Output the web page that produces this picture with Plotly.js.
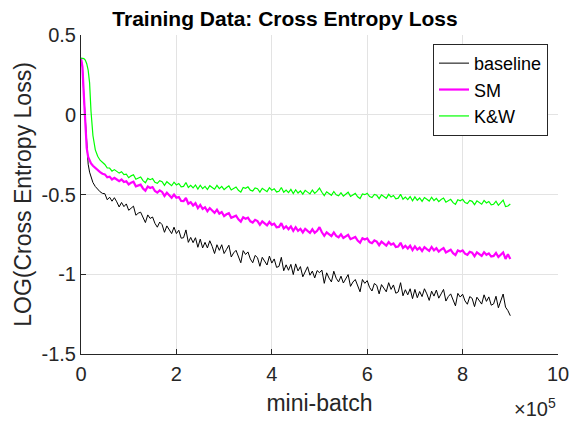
<!DOCTYPE html>
<html>
<head>
<meta charset="utf-8">
<script src="https://cdn.plot.ly/plotly-3.0.1.min.js"></script>
<style>html,body{margin:0;padding:0;background:#fff;}#chart{width:572px;height:423px;}</style>
</head>
<body>
<div id="chart"></div>
<script>
// mini-batch index, in units of 1e5
const miniBatch = [0,0.03,0.06,0.09,0.12,0.15,0.18,0.21,0.25,0.3,0.35,0.4,0.45,
0.5,0.55,0.6,0.65,0.7,0.75,0.8,0.85,0.9,0.95,
1.0,1.05,1.1,1.15,1.2,1.25,1.3,1.35,1.4,1.45,
1.5,1.55,1.6,1.65,1.7,1.75,1.8,1.85,1.9,1.95,
2.0,2.05,2.1,2.15,2.2,2.25,2.3,2.35,2.4,2.45,
2.5,2.55,2.6,2.65,2.7,2.75,2.8,2.85,2.9,2.95,
3.0,3.05,3.1,3.15,3.2,3.25,3.3,3.35,3.4,3.45,
3.5,3.55,3.6,3.65,3.7,3.75,3.8,3.85,3.9,3.95,
4.0,4.05,4.1,4.15,4.2,4.25,4.3,4.35,4.4,4.45,
4.5,4.55,4.6,4.65,4.7,4.75,4.8,4.85,4.9,4.95,
5.0,5.05,5.1,5.15,5.2,5.25,5.3,5.35,5.4,5.45,
5.5,5.55,5.6,5.65,5.7,5.75,5.8,5.85,5.9,5.95,
6.0,6.05,6.1,6.15,6.2,6.25,6.3,6.35,6.4,6.45,
6.5,6.55,6.6,6.65,6.7,6.75,6.8,6.85,6.9,6.95,
7.0,7.05,7.1,7.15,7.2,7.25,7.3,7.35,7.4,7.45,
7.5,7.55,7.6,7.65,7.7,7.75,7.8,7.85,7.9,7.95,
8.0,8.05,8.1,8.15,8.2,8.25,8.3,8.35,8.4,8.45,
8.5,8.55,8.6,8.65,8.7,8.75,8.8,8.85,8.9,8.95,
9.0];

const baseline = [0.355,0.3,0.12,-0.05,-0.22,-0.31,-0.36,-0.395,-0.425,-0.45,-0.47,-0.483,-0.493,
-0.495,-0.533,-0.517,-0.542,-0.520,-0.546,-0.578,-0.550,-0.576,-0.559,
-0.599,-0.586,-0.573,-0.630,-0.617,-0.611,-0.647,-0.676,-0.628,-0.650,
-0.641,-0.681,-0.705,-0.673,-0.689,-0.737,-0.697,-0.721,-0.745,-0.705,
-0.745,-0.724,-0.774,-0.771,-0.722,-0.800,-0.769,-0.802,-0.771,-0.831,
-0.780,-0.835,-0.800,-0.835,-0.790,-0.825,-0.870,-0.815,-0.850,-0.815,
-0.870,-0.844,-0.818,-0.892,-0.866,-0.850,-0.894,-0.928,-0.852,-0.876,
-0.860,-0.904,-0.928,-0.882,-0.896,-0.950,-0.894,-0.918,-0.942,-0.886,
-0.930,-0.904,-0.957,-0.951,-0.894,-0.978,-0.941,-0.975,-0.938,-1.002,
-0.935,-0.979,-0.952,-1.016,-0.979,-0.953,-1.006,-0.980,-1.023,-0.977,
-0.990,-0.974,-1.057,-0.991,-1.024,-1.048,-0.981,-1.025,-1.048,-1.012,
-1.055,-1.029,-1.002,-1.076,-1.049,-1.033,-1.076,-1.110,-1.033,-1.057,
-1.040,-1.083,-1.105,-1.058,-1.070,-1.123,-1.065,-1.088,-1.110,-1.053,
-1.095,-1.067,-1.119,-1.111,-1.053,-1.135,-1.097,-1.129,-1.091,-1.153,
-1.095,-1.147,-1.108,-1.140,-1.091,-1.123,-1.164,-1.106,-1.137,-1.099,
-1.150,-1.123,-1.095,-1.168,-1.140,-1.123,-1.165,-1.198,-1.120,-1.143,
-1.125,-1.167,-1.188,-1.140,-1.151,-1.203,-1.144,-1.166,-1.187,-1.129,
-1.170,-1.142,-1.194,-1.186,-1.138,-1.210,-1.172,-1.124,-1.206,-1.228,
-1.26];

const sm = [0.355,0.3,0.12,-0.05,-0.21,-0.265,-0.29,-0.305,-0.32,-0.335,-0.348,-0.36,-0.37,
-0.374,-0.392,-0.388,-0.406,-0.396,-0.406,-0.416,-0.406,-0.422,-0.417,
-0.437,-0.426,-0.420,-0.449,-0.443,-0.438,-0.462,-0.476,-0.450,-0.459,
-0.453,-0.478,-0.488,-0.474,-0.484,-0.509,-0.489,-0.504,-0.520,-0.500,
-0.520,-0.516,-0.541,-0.542,-0.522,-0.558,-0.548,-0.569,-0.554,-0.585,
-0.565,-0.590,-0.580,-0.605,-0.585,-0.600,-0.615,-0.595,-0.620,-0.610,
-0.635,-0.624,-0.617,-0.646,-0.639,-0.633,-0.656,-0.670,-0.643,-0.652,
-0.645,-0.668,-0.676,-0.659,-0.667,-0.690,-0.668,-0.681,-0.694,-0.672,
-0.690,-0.683,-0.705,-0.703,-0.680,-0.713,-0.700,-0.718,-0.700,-0.728,
-0.705,-0.728,-0.715,-0.738,-0.715,-0.728,-0.740,-0.718,-0.740,-0.728,
-0.705,-0.737,-0.759,-0.737,-0.749,-0.761,-0.738,-0.760,-0.768,-0.750,
-0.772,-0.760,-0.753,-0.780,-0.773,-0.766,-0.789,-0.802,-0.774,-0.782,
-0.775,-0.798,-0.805,-0.788,-0.795,-0.818,-0.795,-0.808,-0.820,-0.798,
-0.815,-0.807,-0.829,-0.826,-0.803,-0.835,-0.822,-0.839,-0.821,-0.848,
-0.825,-0.846,-0.833,-0.854,-0.830,-0.842,-0.853,-0.829,-0.850,-0.837,
-0.858,-0.845,-0.836,-0.863,-0.855,-0.846,-0.868,-0.880,-0.851,-0.858,
-0.850,-0.871,-0.878,-0.859,-0.865,-0.887,-0.863,-0.874,-0.885,-0.862,
-0.878,-0.869,-0.889,-0.885,-0.866,-0.892,-0.877,-0.863,-0.904,-0.875,
-0.905];

const kw = [0.355,0.355,0.352,0.343,0.32,0.28,0.2,0.02,-0.13,-0.22,-0.26,-0.285,-0.30,
-0.312,-0.334,-0.334,-0.354,-0.344,-0.355,-0.366,-0.357,-0.375,-0.373,
-0.395,-0.383,-0.376,-0.404,-0.397,-0.390,-0.413,-0.426,-0.399,-0.407,
-0.400,-0.423,-0.430,-0.413,-0.420,-0.443,-0.420,-0.433,-0.445,-0.423,
-0.440,-0.431,-0.452,-0.449,-0.425,-0.456,-0.442,-0.458,-0.440,-0.466,
-0.442,-0.463,-0.449,-0.469,-0.445,-0.456,-0.467,-0.443,-0.463,-0.449,
-0.470,-0.456,-0.446,-0.472,-0.463,-0.453,-0.474,-0.485,-0.456,-0.461,
-0.452,-0.473,-0.478,-0.459,-0.464,-0.485,-0.461,-0.471,-0.482,-0.457,
-0.473,-0.464,-0.484,-0.480,-0.456,-0.486,-0.472,-0.488,-0.468,-0.494,
-0.470,-0.491,-0.477,-0.498,-0.474,-0.485,-0.496,-0.472,-0.493,-0.479,
-0.460,-0.486,-0.507,-0.483,-0.494,-0.505,-0.481,-0.502,-0.508,-0.489,
-0.510,-0.496,-0.486,-0.512,-0.503,-0.493,-0.514,-0.525,-0.496,-0.501,
-0.492,-0.513,-0.519,-0.500,-0.505,-0.526,-0.502,-0.513,-0.524,-0.499,
-0.515,-0.506,-0.527,-0.523,-0.499,-0.530,-0.516,-0.532,-0.513,-0.539,
-0.515,-0.536,-0.522,-0.543,-0.519,-0.530,-0.541,-0.517,-0.538,-0.524,
-0.545,-0.531,-0.522,-0.548,-0.539,-0.530,-0.551,-0.562,-0.533,-0.539,
-0.530,-0.551,-0.557,-0.537,-0.543,-0.564,-0.540,-0.551,-0.561,-0.537,
-0.553,-0.544,-0.565,-0.561,-0.542,-0.568,-0.554,-0.535,-0.576,-0.572,
-0.560];

const seriesNames = ['baseline','SM','K&W'];
const xTicks = [0,2,4,6,8,10];
const xTickLabels = ['0','2','4','6','8','10'];
const yTicks = [-1.5,-1,-0.5,0,0.5];
const yTickLabels = ['-1.5','-1','-0.5','0','0.5'];

const FONT = 'Liberation Sans, Arial, Helvetica, sans-serif';
const AX = '#262626';

const traces = [
  {x: miniBatch, y: baseline, name: seriesNames[0], type: 'scatter', mode: 'lines', line: {color: '#000000', width: 1}},
  {x: miniBatch, y: sm, name: seriesNames[1], type: 'scatter', mode: 'lines', line: {color: '#ff00ff', width: 2.2}},
  {x: miniBatch, y: kw, name: seriesNames[2], type: 'scatter', mode: 'lines', line: {color: '#00ff00', width: 1.2}}
];

const layout = {
  width: 572, height: 423,
  margin: {l: 81, r: 14, t: 35, b: 69, pad: 0},
  paper_bgcolor: '#ffffff', plot_bgcolor: '#ffffff',
  font: {family: FONT, size: 20, color: AX},
  showlegend: true,
  title: {text: '<b>Training Data: Cross Entropy Loss</b>', font: {family: FONT, size: 21, color: '#000000'},
          x: 285/572, xref: 'container', xanchor: 'center', y: 1 - 19/423, yanchor: 'middle'},
  xaxis: {
    range: [0, 10], tickvals: xTicks, ticktext: xTickLabels,
    showgrid: true, gridcolor: '#e3e3e3', gridwidth: 1,
    zeroline: false, showline: true, linecolor: AX, linewidth: 1,
    ticks: 'inside', ticklen: 5, tickcolor: AX, tickwidth: 1,
    ticklabelstandoff: 2,
    tickfont: {family: FONT, size: 20, color: AX},
    title: {text: 'mini-batch', font: {family: FONT, size: 23, color: AX}, standoff: 10},
    mirror: false, fixedrange: true
  },
  yaxis: {
    range: [-1.5, 0.5], tickvals: yTicks, ticktext: yTickLabels,
    showgrid: true, gridcolor: '#e3e3e3', gridwidth: 1,
    zeroline: false, showline: true, linecolor: AX, linewidth: 1,
    ticks: 'inside', ticklen: 5, tickcolor: AX, tickwidth: 1,
    tickfont: {family: FONT, size: 20, color: AX},
    title: {text: 'LOG(Cross Entropy Loss)', font: {family: FONT, size: 23, color: AX}, standoff: 3},
    mirror: false, fixedrange: true
  },
  legend: {
    x: (548 - 81) / 477, y: 0.972, xanchor: 'right', yanchor: 'top',
    bgcolor: '#ffffff', bordercolor: AX, borderwidth: 1,
    font: {family: FONT, size: 18, color: '#000000'},
    itemwidth: 30, tracegroupgap: 0
  },
  annotations: [
    {text: '×10<sup>5</sup>', xref: 'paper', yref: 'paper', x: 1.0, y: -0.168,
     xanchor: 'right', yanchor: 'middle', showarrow: false,
     font: {family: FONT, size: 20, color: AX}}
  ]
};

Plotly.newPlot('chart', traces, layout, {displayModeBar: false, staticPlot: true});
</script>
</body>
</html>
